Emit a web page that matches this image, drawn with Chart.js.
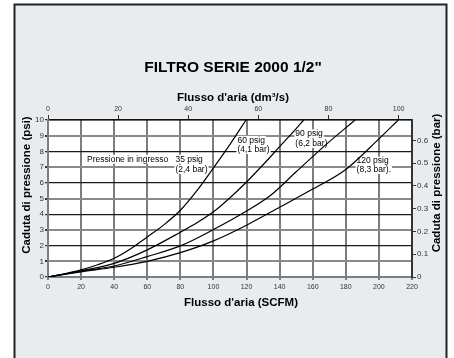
<!DOCTYPE html>
<html>
<head>
<meta charset="utf-8">
<script src="https://cdn.jsdelivr.net/npm/chart.js@4.4.0/dist/chart.umd.min.js"></script>
<style>
  html, body { margin: 0; padding: 0; background: #fff; }
  #wrap { width: 454px; height: 358px; }
</style>
</head>
<body>
<div id="wrap"><canvas id="myChart"></canvas></div>
<script>
const FONT = 'Arial, "Liberation Sans", sans-serif';

// Portata (SCFM) e caduta di pressione (psi) per ogni pressione di ingresso
const flow35 = [0, 10, 20, 30, 40, 50, 60, 70, 80, 90, 100, 110, 119.7];
const drop35 = [0, 0.2, 0.45, 0.78, 1.19, 1.8, 2.55, 3.32, 4.25, 5.5, 6.95, 8.45, 10];

const flow60 = [0, 20, 40, 60, 80, 90, 100, 110, 120, 130, 140, 150, 154.5];
const drop60 = [0, 0.4, 0.87, 1.73, 2.85, 3.45, 4.15, 5.05, 6.05, 7.15, 8.3, 9.45, 10];

const flow90 = [0, 20, 40, 60, 80, 100, 120, 135, 150, 168, 185.6];
const drop90 = [0, 0.37, 0.7, 1.3, 1.98, 3.02, 4.2, 5.24, 6.7, 8.43, 10];

const flow120 = [0, 20, 40, 60, 80, 100, 120, 140, 160, 180, 200, 211.7];
const drop120 = [0, 0.33, 0.62, 1.0, 1.55, 2.3, 3.3, 4.44, 5.6, 6.85, 8.8, 10];

// tacche degli assi secondari
const dm3Ticks = [0, 20, 40, 60, 80, 100];
const barTicks = [0, 0.1, 0.2, 0.3, 0.4, 0.5, 0.6];

// fattori di conversione per gli assi secondari
const SCFM_TO_DM3S = 0.47195;
const PSI_TO_BAR = 1 / 14.5038;

const toPoints = (xs, ys) => xs.map((x, i) => ({ x: x, y: ys[i] }));

const curva = (label, xs, ys) => ({
  label: label,
  data: toPoints(xs, ys),
  borderColor: '#000',
  borderWidth: 1.2,
  pointRadius: 0,
  fill: false,
  cubicInterpolationMode: 'monotone'
});

const data = {
  datasets: [
    curva('35 psig', flow35, drop35),
    curva('60 psig', flow60, drop60),
    curva('90 psig', flow90, drop90),
    curva('120 psig', flow120, drop120)
  ]
};

// scritte dentro il grafico (x in SCFM, y in psi, bordo sinistro del testo)
const note = [
  { t: 'Pressione in ingresso', x: 23.6, y: 7.5 },
  { t: '35 psig', x: 77, y: 7.5 },
  { t: '(2,4 bar)', x: 77, y: 6.85 },
  { t: '60 psig', x: 114.5, y: 8.7 },
  { t: '(4,1 bar)', x: 114.5, y: 8.12 },
  { t: '90 psig', x: 149.5, y: 9.12 },
  { t: '(6,2 bar)', x: 149.5, y: 8.5 },
  { t: '120 psig', x: 186.5, y: 7.38 },
  { t: '(8,3 bar).', x: 186.5, y: 6.85 }
];

const cornice = {
  id: 'cornice',
  beforeDraw(chart) {
    const c = chart.ctx, a = chart.chartArea;
    c.save();
    c.fillStyle = '#fff';
    c.fillRect(0, 0, chart.width, chart.height);
    c.fillStyle = '#e9ecef';
    c.fillRect(14.5, 4.5, 432, 400);
    c.strokeStyle = '#222';
    c.lineWidth = 2;
    c.strokeRect(14.5, 4.5, 432, 400);
    c.fillStyle = '#fff';
    c.fillRect(a.left, a.top, a.right - a.left, a.bottom - a.top);
    c.restore();
  },
  beforeDatasetsDraw(chart) {
    const c = chart.ctx;
    const sx = chart.scales.x, sy = chart.scales.y;
    c.save();
    c.font = '8.5px ' + FONT;
    c.textBaseline = 'middle';
    c.textAlign = 'left';
    note.forEach(n => {
      const px = sx.getPixelForValue(n.x);
      const py = sy.getPixelForValue(n.y);
      const w = c.measureText(n.t).width;
      c.fillStyle = '#fff';
      c.fillRect(px - 1, py - 4.5, w + 2, 9);
      c.fillStyle = '#000';
      c.fillText(n.t, px, py);
    });
    c.restore();
  },
  afterDraw(chart) {
    const c = chart.ctx;
    c.save();
    c.fillStyle = '#000';
    c.textAlign = 'center';
    c.textBaseline = 'middle';
    c.font = 'bold 15.5px ' + FONT;
    c.fillText('FILTRO SERIE 2000 1/2"', 233, 68);
    c.font = 'bold 11.5px ' + FONT;
    c.fillText("Flusso d'aria (dm\u00b3/s)", 233, 97.5);
    c.fillText("Flusso d'aria (SCFM)", 241, 303);
    c.translate(27, 185);
    c.rotate(-Math.PI / 2);
    c.fillText('Caduta di pressione (psi)', 0, 0);
    c.restore();
    c.save();
    c.fillStyle = '#000';
    c.textAlign = 'center';
    c.textBaseline = 'middle';
    c.font = 'bold 11.5px ' + FONT;
    c.translate(437, 183);
    c.rotate(-Math.PI / 2);
    c.fillText('Caduta di pressione (bar)', 0, 0);
    c.restore();
  }
};

const tickFont = { family: FONT, size: 7 };
const yTickFont = { family: FONT, size: 8 };

const config = {
  type: 'line',
  data: data,
  plugins: [cornice],
  options: {
    responsive: true,
    maintainAspectRatio: false,
    animation: false,
    layout: { padding: { left: 14, right: 8, top: 76, bottom: 0 } },
    plugins: {
      legend: { display: false },
      tooltip: { enabled: false }
    },
    scales: {
      x: {
        type: 'linear',
        position: 'bottom',
        min: 0,
        max: 220,
        afterFit: s => { s.height = 81; },
        ticks: { stepSize: 20, font: tickFont, color: '#333', padding: 3, maxRotation: 0 },
        grid: { color: '#7d7d7d', lineWidth: 2, tickLength: 3, tickColor: '#7d7d7d' },
        border: { color: '#7d7d7d', width: 2 }
      },
      xTop: {
        type: 'linear',
        position: 'top',
        min: 0,
        max: 220 * SCFM_TO_DM3S,
        afterFit: s => { s.height = 44; },
        afterBuildTicks: s => { s.ticks = dm3Ticks.map(v => ({ value: v })); },
        ticks: { font: tickFont, color: '#333', padding: 2, maxRotation: 0, autoSkip: false },
        grid: { drawOnChartArea: false, tickLength: 5, tickColor: '#333', lineWidth: 1 },
        border: { color: '#111', width: 1.5 }
      },
      y: {
        type: 'linear',
        position: 'left',
        min: 0,
        max: 10,
        afterFit: s => { s.width = 34; },
        ticks: { stepSize: 1, font: yTickFont, color: '#333', padding: 1 },
        grid: {
          color: ctx => (ctx.tick && ctx.tick.value % 2 === 0 ? '#1a1a1a' : '#8a8a8a'),
          lineWidth: ctx => (ctx.tick && ctx.tick.value % 2 === 0 ? 1.2 : 2),
          tickLength: 3,
          tickColor: '#333'
        },
        border: { color: '#7d7d7d', width: 2 }
      },
      yBar: {
        type: 'linear',
        position: 'right',
        min: 0,
        max: 10 * PSI_TO_BAR,
        afterFit: s => { s.width = 34; },
        afterBuildTicks: s => { s.ticks = barTicks.map(v => ({ value: v })); },
        ticks: {
          font: yTickFont,
          color: '#333',
          padding: 1,
          autoSkip: false,
          callback: v => (v === 0 ? '0' : v.toFixed(1))
        },
        grid: { drawOnChartArea: false, tickLength: 4, tickColor: '#333' },
        border: { color: '#333', width: 2 }
      }
    }
  }
};

new Chart(document.getElementById('myChart').getContext('2d'), config);
</script>
</body>
</html>
